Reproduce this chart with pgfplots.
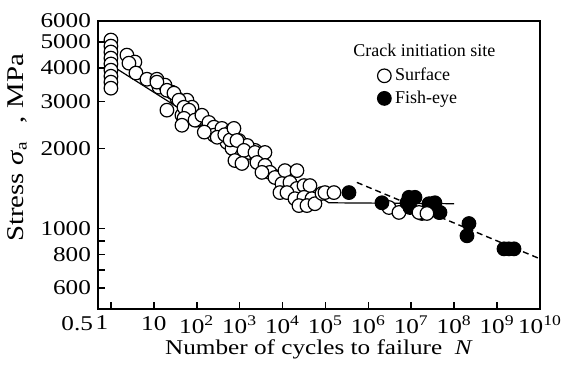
\documentclass[border=0pt]{standalone}
\usepackage{fontspec}
\setmainfont{Liberation Serif}
\newfontfamily\wideserif{Liberation Serif}[FakeStretch=1.2]
\usepackage{pgfplots}
\pgfplotsset{compat=1.18}
\begin{document}
\begin{tikzpicture}
\begin{axis}[name=main,
  scale only axis, width=221pt, height=144pt,
  xmode=log, ymode=log,
  xmin=0.5, xmax=1e10, ymin=500, ymax=6000,
  axis line style={line width=1pt},
  tick style={draw=none},
  major tick length=0pt,
  tick align=outside, tick pos=left,
  xminorticks=false, yminorticks=false,
  xtick={0.5,1,10,100,1e3,1e4,1e5,1e6,1e7,1e8,1e9,1e10},
  xticklabels={\makebox[0pt][r]{0.5\hspace{2.5pt}},\makebox[0pt]{1\hspace{9pt}},10,10\textsuperscript{2},10\textsuperscript{3},10\textsuperscript{4},10\textsuperscript{5},10\textsuperscript{6},10\textsuperscript{7},10\textsuperscript{8},10\textsuperscript{9},10\textsuperscript{10}},
  ytick={600,800,1000,2000,3000,4000,5000,6000},
  yticklabels={600,800,1000,2000,3000,4000,5000,6000},
  ticklabel style={font=\wideserif\fontsize{10.5}{12}\selectfont},
  xlabel={Number of cycles to failure\ \ \textit{N}},
  ylabel={Stress \textit{σ}\textsubscript{a}\hspace{9pt},\hspace{4pt}MPa},
  xlabel style={font=\wideserif\fontsize{10.5}{12}\selectfont, yshift=4pt},
  ylabel style={font=\wideserif\fontsize{12}{14}\selectfont, at={(ticklabel cs:0.56)}},
  legend style={draw=none, fill=none, at={(rel axis cs:0.618,0.866)}, anchor=north west,
    font=\fontsize{9}{11}\selectfont, row sep=-0.5pt},
  legend cell align=left,
]
% fitted lines
\addplot[black, line width=0.6pt, forget plot] coordinates {(1,4100) (1.2e5,1250) (1e8,1240)};
\addplot[black, line width=0.7pt, dash pattern=on 3pt off 2pt, forget plot] coordinates {(5.4e5,1490) (1e10,771)};
% surface
\addplot[only marks, mark=*, mark size=3.4pt, mark options={fill=white, draw=black, line width=0.6pt}] coordinates {
(1,5090)(1,4830)(1,4590)(1,4355)(1,4140)(1,3925)(1,3725)(1,3540)(1,3360)
(2.36,4470)(3.62,4210)(2.63,4170)(3.83,3830)(6.9,3630)(11.8,3630)(13.2,3390)(18.2,3450)(26.4,3245)(34.5,3080)(59.2,3030)(77.3,2850)(20.2,2780)(45.2,2660)(69.3,2615)(101,2550)
(11.8,3540)(20.2,3300)(29.4,3220)(38.5,3030)(50.4,2850)(65.8,2780)(50.4,2590)(45.2,2440)(90.8,2550)(132,2660)(192,2500)(252,2400)(252,2240)(386,2375)(662,2335)(506,2105)(964,2140)(662,2000)(1132,1880)(1648,1930)(2275,1965)(2529,1800)
(150,2300)(300,2200)(450,2250)(600,2150)(1500,2050)
(736,2375)(865,2140)(1259,1965)(776,1800)(1132,1755)(2275,1930)(3890,1930)(2529,1770)(3890,1725)(5082,1625)(3311,1625)(6653,1555)(11376,1650)(21677,1650)(9683,1475)(14859,1490)(21677,1415)(31550,1450)(43551,1450)(8690,1365)(12677,1365)(19454,1295)(31550,1310)(48417,1295)(24099,1220)(37068,1220)(56885,1240)(82794,1355)(97270,1365)(157761,1365)
(3.02e6,1200)(5.16e6,1150)
};
\addlegendentry{Surface}
% fish-eye
\addplot[only marks, mark=*, mark size=3.4pt, mark options={fill=black, draw=black, line width=0.6pt}] coordinates {
(353183,1365)(2.07e6,1250)(7.94e6,1250)(8.83e6,1310)(9.33e6,1200)(1.22e7,1310)(1.77e7,1140)(2.59e7,1240)(3.04e7,1240)(3.56e7,1250)(4.43e7,1150)(4.67e7,1150)(2.21e8,1045)(1.99e8,940)(1.45e9,840)(1.89e9,840)(2.48e9,840)
};
\addlegendentry{Fish-eye}
% surface points lying on top of the fish-eye cluster
\addplot[only marks, mark=*, mark size=3.4pt, mark options={fill=white, draw=black, line width=0.6pt}, forget plot] coordinates {
(1.51e7,1150)(2.32e7,1140)
};
% inward tick marks
\draw[line width=0.8pt]
  (axis cs:1,500) -- ++(canvas cs:x=0pt,y=3.5pt)
  (axis cs:10,500) -- ++(canvas cs:x=0pt,y=3.5pt)
  (axis cs:100,500) -- ++(canvas cs:x=0pt,y=3.5pt)
  (axis cs:1e3,500) -- ++(canvas cs:x=0pt,y=3.5pt)
  (axis cs:1e4,500) -- ++(canvas cs:x=0pt,y=3.5pt)
  (axis cs:1e5,500) -- ++(canvas cs:x=0pt,y=3.5pt)
  (axis cs:1e6,500) -- ++(canvas cs:x=0pt,y=3.5pt)
  (axis cs:1e7,500) -- ++(canvas cs:x=0pt,y=3.5pt)
  (axis cs:1e8,500) -- ++(canvas cs:x=0pt,y=3.5pt)
  (axis cs:1e9,500) -- ++(canvas cs:x=0pt,y=3.5pt)
  (axis cs:0.5,600) -- ++(canvas cs:x=3.5pt,y=0pt)
  (axis cs:0.5,700) -- ++(canvas cs:x=3.5pt,y=0pt)
  (axis cs:0.5,800) -- ++(canvas cs:x=3.5pt,y=0pt)
  (axis cs:0.5,900) -- ++(canvas cs:x=3.5pt,y=0pt)
  (axis cs:0.5,1000) -- ++(canvas cs:x=3.5pt,y=0pt)
  (axis cs:0.5,2000) -- ++(canvas cs:x=3.5pt,y=0pt)
  (axis cs:0.5,3000) -- ++(canvas cs:x=3.5pt,y=0pt)
  (axis cs:0.5,4000) -- ++(canvas cs:x=3.5pt,y=0pt)
  (axis cs:0.5,5000) -- ++(canvas cs:x=3.5pt,y=0pt);
\node[anchor=west, font=\fontsize{9}{11}\selectfont] at (rel axis cs:0.562,0.899) {Crack initiation site};
\end{axis}
\pgfresetboundingbox
\path ([xshift=-49pt,yshift=-30pt]main.south west) rectangle ([xshift=15.5pt,yshift=10.5pt]main.north east);
\end{tikzpicture}
\end{document}
